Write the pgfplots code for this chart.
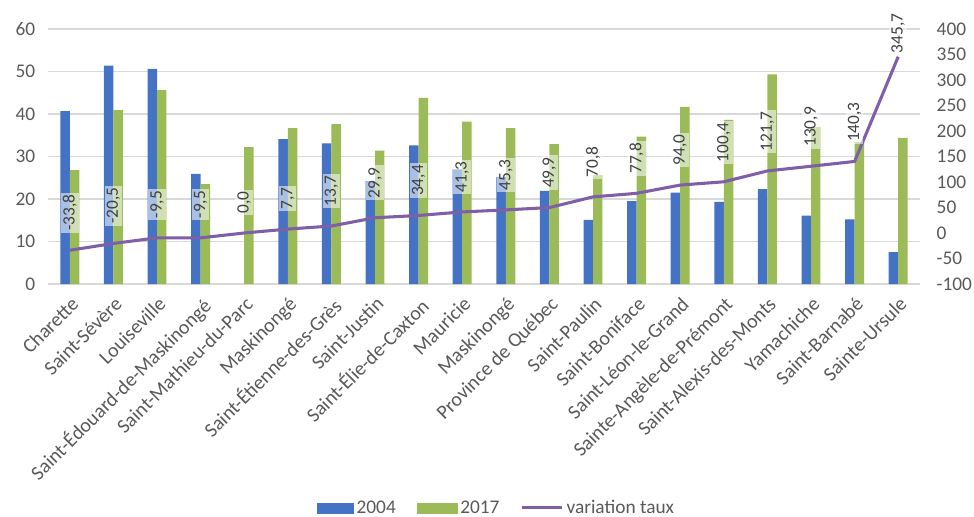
\documentclass[border=0pt]{standalone}
\usepackage{fontspec}
\setmainfont{Carlito}
\usepackage{pgfplots}
\pgfplotsset{compat=1.18}
\definecolor{cA}{HTML}{4472C4}
\definecolor{cB}{HTML}{9BBB59}
\definecolor{cL}{HTML}{7F5FA8}
\definecolor{tx}{HTML}{595959}
\definecolor{gr}{HTML}{D9D9D9}
\begin{document}
\begin{tikzpicture}[font=\fontsize{14.5}{17}\selectfont]
\pgfplotsset{
  common/.style={scale only axis, width=654pt, height=191.25pt,
    xmin=-0.5, xmax=19.5,
    axis line style={draw=none}, tick style={draw=none},
    /pgf/number format/assume math mode=true,
    tick label style={text=tx, font=\fontsize{14.5}{17}\selectfont}},
  lab/.style={nodes near coords, point meta=explicit symbolic,
    every node near coord/.style={rotate=90, anchor=west, xshift=#1, fill=white,
    fill opacity=0.55, text opacity=1, text=black!75, inner sep=1.5pt,
    font=\fontsize{13}{15}\selectfont}},
}
\begin{axis}[common,
  ymin=0, ymax=60, ytick={0,10,...,60},
  ymajorgrids, grid style={gr, line width=0.8pt},
  ybar=0pt, bar width=7.1pt,
  xtick={0,...,19},
  xticklabels={Charette,Saint-Sévère,Louiseville,Saint-Édouard-de-Maskinongé,Saint-Mathieu-du-Parc,Maskinongé,Saint-Étienne-des-Grès,Saint-Justin,Saint-Élie-de-Caxton,Mauricie,Maskinongé,Province de Québec,Saint-Paulin,Saint-Boniface,Saint-Léon-le-Grand,Sainte-Angèle-de-Prémont,Saint-Alexis-des-Monts,Yamachiche,Saint-Barnabé,Sainte-Ursule},
  x tick label style={rotate=45, anchor=north east, inner sep=1pt, xshift=-2pt, yshift=-2pt, font=\fontsize{15}{17}\selectfont},
  yticklabel style={xshift=-6pt},
]
\coordinate (O) at (rel axis cs:0,0);
\addplot[fill=cA, draw=none] coordinates {
(0,40.7) (1,51.4) (2,50.6) (3,25.9) (4,nan) (5,34.1) (6,33.1) (7,24.2) (8,32.6) (9,27.0)
(10,25.2) (11,21.9) (12,15.1) (13,19.5) (14,21.5) (15,19.3) (16,22.3) (17,16.1) (18,15.2) (19,7.5)};
\addplot[fill=cB, draw=none] coordinates {
(0,26.8) (1,40.9) (2,45.6) (3,23.5) (4,32.2) (5,36.7) (6,37.6) (7,31.4) (8,43.8) (9,38.2)
(10,36.7) (11,32.9) (12,25.6) (13,34.7) (14,41.7) (15,38.6) (16,49.3) (17,37.0) (18,33.4) (19,34.4)};
\end{axis}
\begin{axis}[common,
  ymin=-100, ymax=400, ytick={-100,-50,...,400},
  axis y line*=right, xtick=\empty,
  yticklabel style={xshift=9pt},
  legend columns=3,
  legend style={at={(0.515,-0.878)}, anchor=center, draw=none, fill=none,
    font=\fontsize{14.5}{17}\selectfont, text=tx,
    /tikz/every even column/.append style={column sep=14pt}},
]
\addlegendimage{legend image code/.code={\fill[cA] (0pt,-3.8pt) rectangle (27pt,3.8pt);}}
\addlegendentry{2004}
\addlegendimage{legend image code/.code={\fill[cB] (0pt,-3.8pt) rectangle (30pt,3.8pt);}}
\addlegendentry{2017}
\addplot[cL, line width=2.3pt, mark=none,
  legend image code/.code={\draw[cL, line width=2.3pt] (0pt,0pt) -- (30pt,0pt);}]
table {
x y
0 -33.8
1 -20.5
2 -9.5
3 -9.5
4 0.0
5 7.7
6 13.7
7 29.9
8 34.4
9 41.3
10 45.3
11 49.9
12 70.8
13 77.8
14 94.0
15 100.4
16 121.7
17 130.9
18 140.3
19 345.7
};
\addlegendentry{variation taux}
\addplot[draw=none, mark=none, lab=13pt, forget plot] table[meta=lab] {
x y lab
0 -33.8 -33,8
1 -20.5 -20,5
2 -9.5 -9,5
3 -9.5 -9,5
4 0.0 0,0
5 7.7 7,7
6 13.7 13,7
7 29.9 29,9
8 34.4 34,4
9 41.3 41,3
10 45.3 45,3
11 49.9 49,9
12 70.8 70,8
13 77.8 77,8
14 94.0 94,0
15 100.4 100,4
16 121.7 121,7
17 130.9 130,9
18 140.3 140,3
};
\addplot[draw=none, mark=none, lab=1pt, forget plot] table[meta=lab] {
x y lab
19 345.7 345,7
};
\end{axis}
\pgfresetboundingbox
\path[use as bounding box] ([xshift=-36pt,yshift=-174.75pt]O) rectangle ([xshift=694.5pt,yshift=213pt]O);
\end{tikzpicture}
\end{document}
